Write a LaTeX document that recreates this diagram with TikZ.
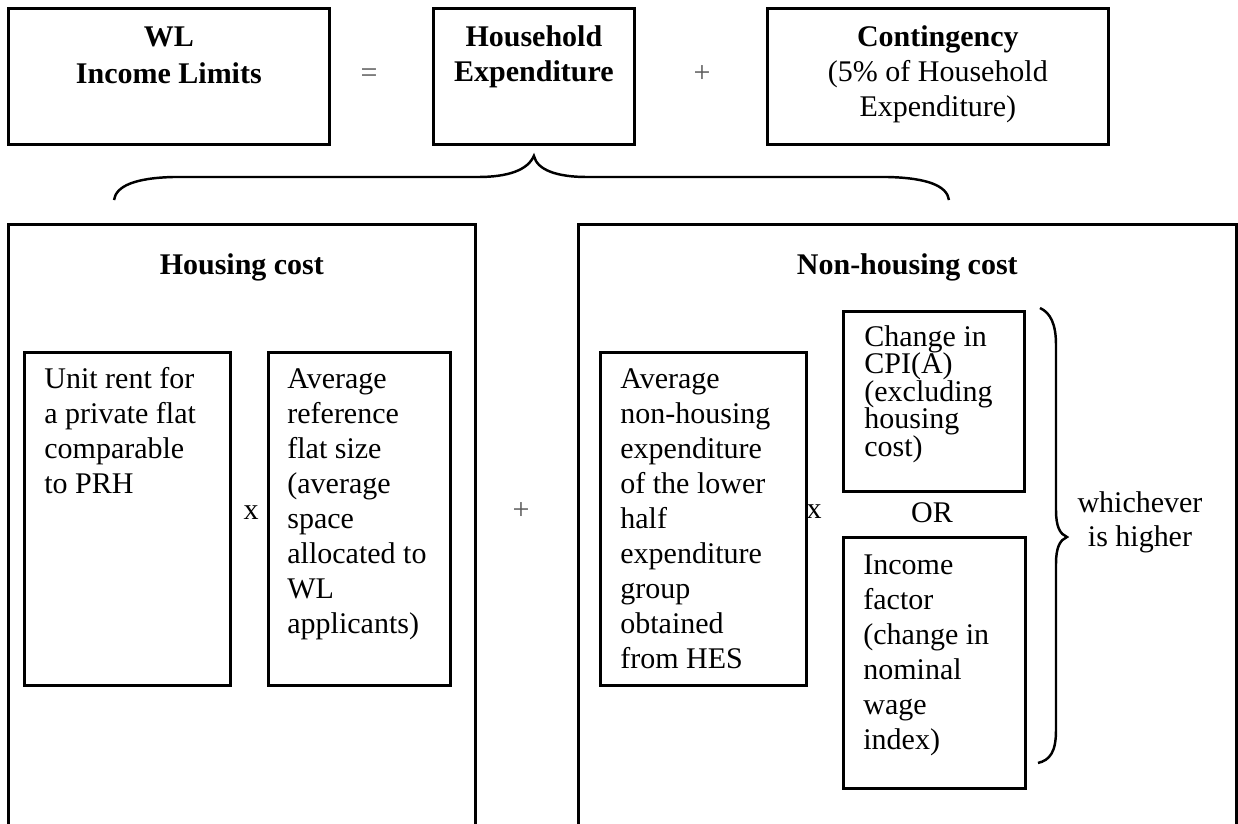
\documentclass[tikz,border=0pt]{standalone}
\usepackage{fontspec}
\setmainfont{Liberation Serif}
\newcommand{\tightfont}{\fontsize{17.07pt}{15.65pt}\selectfont\lineskiplimit=-1cm\relax}
\begin{document}
\begin{tikzpicture}[x=0.02cm,y=-0.02cm,
  every node/.style={font=\fontsize{17.07pt}{19.9pt}\selectfont},
  cell/.style={draw,line width=1.6pt,anchor=north west,inner ysep=0pt,inner xsep=0.4cm,align=flush left},
  title/.style={cell,inner xsep=0.2cm,align=flush center},
  tightcell/.style={cell,font=\tightfont},
  sign/.style={anchor=base},
  op/.style={sign,text=black!65},
  brace/.style={line width=1.4pt}]
\useasboundingbox (0,0) rectangle (1238,823);
\clip (0,0) rectangle (1238,823);
\node[title,text width=6.02cm,text height=0.76cm,text depth=1.96cm] (wl) at (7,7) {\textbf{WL}\\[0.04cm]\textbf{Income Limits}};
\node[op] (eq) at (369,82) {=};
\node[title,text width=3.62cm,text height=0.76cm,text depth=1.96cm] (he) at (432,7) {\textbf{Household}\\\textbf{Expenditure}};
\node[op] (plus) at (702,82) {+};
\node[title,text width=6.42cm,text height=0.76cm,text depth=1.96cm] (cont) at (766,7) {\textbf{Contingency}\\(5\% of Household\\Expenditure)};
\coordinate (hsend) at (114,200);
\coordinate (nhend) at (949,200);
\coordinate (tip) at ([yshift=-0.2cm]he.south);
\draw[brace] (hsend) .. controls (116,186) and (135,178) .. (173,177) -- (478,177) .. controls (508,177) and (528,170) .. (tip) .. controls (537,170) and (557,177) .. (587,177) -- (888,177) .. controls (928,178) and (947,186) .. (nhend);
\node[title,text width=8.94cm,text height=1cm,text depth=12cm] (housing) at (7,223) {\textbf{Housing cost}};
\node[title,text width=12.76cm,text height=1cm,text depth=12cm] (nonhousing) at (577,223) {\textbf{Non-housing cost}};
\node[cell,text width=3.32cm,text height=0.72cm,text depth=5.94cm] (rent) at (23,351) {Unit rent for\\a private flat\\comparable\\to PRH};
\node[sign] (times1) at (251,519) {x};
\node[cell,inner xsep=0.38cm,text width=2.88cm,text height=0.72cm,text depth=5.94cm] (flatsize) at (267,351) {Average\\reference\\flat size\\(average\\space\\allocated to\\WL\\applicants)};
\node[op] (plus2) at (521,519) {+};
\node[cell,text width=3.32cm,text height=0.72cm,text depth=5.94cm] (nonhexp) at (599,351) {Average\\non-housing\\expenditure\\of the lower\\half\\expenditure\\group\\obtained\\from HES};
\node[sign] (times2) at (814,518) {x};
\node[tightcell,inner xsep=0.42cm,text width=2.78cm,text height=0.7cm,text depth=2.9cm] (cpi) at (842,310) {Change in\\CPI(A)\\(excluding\\housing\\cost)};
\node[sign] (or) at (932,522) {OR};
\node[cell,text width=2.84cm,text height=0.74cm,text depth=4.28cm] (wage) at (842,536) {Income\\factor\\(change in\\nominal\\wage\\index)};
\coordinate (btop) at (1040,308);
\coordinate (bbot) at (1038,763);
\draw[brace] (btop) .. controls (1051,313) and (1056,325) .. (1056,345) -- (1056,510) .. controls (1056,527) and (1060,534) .. (1067,537) .. controls (1060,540) and (1056,547) .. (1056,564) -- (1056,730) .. controls (1056,752) and (1050,760) .. (bbot);
\node[sign,align=flush center,text width=4cm] (higher) at (1140,512) {whichever\\is higher};
\end{tikzpicture}
\end{document}
